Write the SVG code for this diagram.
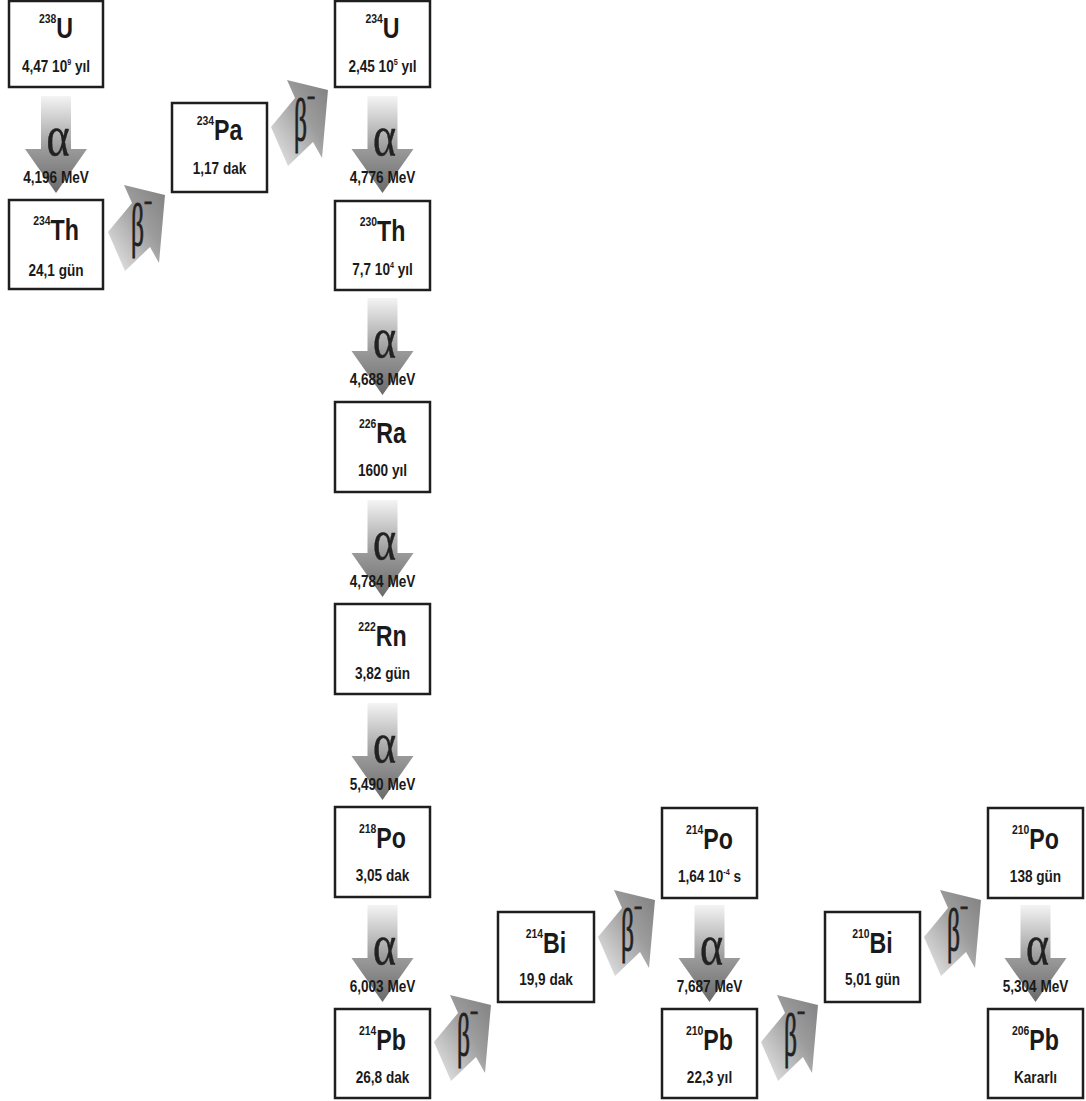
<svg xmlns="http://www.w3.org/2000/svg" xmlns:xlink="http://www.w3.org/1999/xlink" width="1086" height="1101" viewBox="0 0 1086 1101">
<style>
.box{fill:#fff;stroke:#1e1e1e;stroke-width:2.5}
.n{font-family:"Liberation Sans",Arial,sans-serif;font-weight:bold;fill:#1a1a1a;text-anchor:middle}
.sym{font-size:29px}
.mass{font-size:13px}
.hl{font-size:17px}
.ex{font-size:9px}
.mev{font-family:"Liberation Sans",Arial,sans-serif;font-weight:bold;font-size:17px;fill:#1a1a1a;text-anchor:middle}
.gr{font-family:"Liberation Serif",serif;font-size:40px;fill:#222;text-anchor:middle;stroke:#222;stroke-width:0.3}
.gb{font-family:"Liberation Serif",serif;font-size:32px;fill:#222;stroke:#222;stroke-width:0.5}
</style>
<defs>
<linearGradient id="ga" x1="0" y1="0" x2="0" y2="1">
<stop offset="0" stop-color="#f4f4f4"/>
<stop offset="0.55" stop-color="#9a9a9a"/>
<stop offset="1" stop-color="#6a6a6a"/>
</linearGradient>
<linearGradient id="gbeta" x1="0" y1="1" x2="1" y2="0">
<stop offset="0" stop-color="#ececec"/>
<stop offset="0.6" stop-color="#9c9c9c"/>
<stop offset="1" stop-color="#808080"/>
</linearGradient>
<path id="aarr" d="M-15,-97 H15 V-44 H31 L0,0 L-31,-44 H-15 Z" fill="url(#ga)"/>
<path id="barr" d="M0,0 L-41,-10 L-33,8 L-57,37 L-40,76 L-15,52 L-6,68 Z" fill="url(#gbeta)"/>
</defs>
<rect width="1086" height="1101" fill="#fff"/>

<g id="connectors">
<use xlink:href="#aarr" x="56" y="193"/>
<text class="gr" transform="translate(58,155) scale(1.1,1.4)">α</text>
<text class="mev" transform="translate(56,183) scale(0.8,1)">4,196 MeV</text>

<use xlink:href="#aarr" x="382.5" y="193"/>
<text class="gr" transform="translate(384.5,155) scale(1.1,1.4)">α</text>
<text class="mev" transform="translate(382.5,183) scale(0.8,1)">4,776 MeV</text>

<use xlink:href="#aarr" x="382.5" y="395"/>
<text class="gr" transform="translate(384.5,357) scale(1.1,1.4)">α</text>
<text class="mev" transform="translate(382.5,385) scale(0.8,1)">4,688 MeV</text>

<use xlink:href="#aarr" x="382.5" y="597"/>
<text class="gr" transform="translate(384.5,559) scale(1.1,1.4)">α</text>
<text class="mev" transform="translate(382.5,587) scale(0.8,1)">4,784 MeV</text>

<use xlink:href="#aarr" x="382.5" y="800"/>
<text class="gr" transform="translate(384.5,762) scale(1.1,1.4)">α</text>
<text class="mev" transform="translate(382.5,790) scale(0.8,1)">5,490 MeV</text>

<use xlink:href="#aarr" x="382.5" y="1002"/>
<text class="gr" transform="translate(384.5,964) scale(1.1,1.4)">α</text>
<text class="mev" transform="translate(382.5,992) scale(0.8,1)">6,003 MeV</text>

<use xlink:href="#aarr" x="709.5" y="1002"/>
<text class="gr" transform="translate(711.5,964) scale(1.1,1.4)">α</text>
<text class="mev" transform="translate(709.5,992) scale(0.8,1)">7,687 MeV</text>

<use xlink:href="#aarr" x="1035.5" y="1002"/>
<text class="gr" transform="translate(1037.5,964) scale(1.1,1.4)">α</text>
<text class="mev" transform="translate(1035.5,992) scale(0.8,1)">5,304 MeV</text>

<use xlink:href="#barr" x="165" y="195"/>
<text class="gb" transform="translate(131,245) scale(0.8,1.85)">β<tspan font-size="18" dy="-17">−</tspan></text>

<use xlink:href="#barr" x="328" y="90"/>
<text class="gb" transform="translate(294,140) scale(0.8,1.85)">β<tspan font-size="18" dy="-17">−</tspan></text>

<use xlink:href="#barr" x="491" y="1005"/>
<text class="gb" transform="translate(457,1055) scale(0.8,1.85)">β<tspan font-size="18" dy="-17">−</tspan></text>

<use xlink:href="#barr" x="655" y="900"/>
<text class="gb" transform="translate(621,950) scale(0.8,1.85)">β<tspan font-size="18" dy="-17">−</tspan></text>

<use xlink:href="#barr" x="818" y="1005"/>
<text class="gb" transform="translate(784,1055) scale(0.8,1.85)">β<tspan font-size="18" dy="-17">−</tspan></text>

<use xlink:href="#barr" x="981" y="900"/>
<text class="gb" transform="translate(947,950) scale(0.8,1.85)">β<tspan font-size="18" dy="-17">−</tspan></text>
</g>

<g id="U238">
<rect class="box" x="9" y="1" width="94" height="86"/>
<text class="n" transform="translate(56,38) scale(0.8,1)"><tspan class="mass" dy="-15">238</tspan><tspan class="sym" dy="15">U</tspan></text>
<text class="n hl" transform="translate(56,72) scale(0.8,1)">4,47 10<tspan class="ex" dy="-7">9</tspan><tspan dy="7"> yıl</tspan></text>
</g>

<g id="Th234">
<rect class="box" x="9" y="200" width="94" height="89"/>
<text class="n" transform="translate(56,240) scale(0.8,1)"><tspan class="mass" dy="-15">234</tspan><tspan class="sym" dy="15" font-size="31">Th</tspan></text>
<text class="n hl" transform="translate(56,276) scale(0.8,1)">24,1 gün</text>
</g>

<g id="Pa234">
<rect class="box" x="172" y="103" width="95" height="89"/>
<text class="n" transform="translate(219.5,140) scale(0.8,1)"><tspan class="mass" dy="-15">234</tspan><tspan class="sym" dy="15">Pa</tspan></text>
<text class="n hl" transform="translate(219.5,174) scale(0.8,1)">1,17 dak</text>
</g>

<g id="U234">
<rect class="box" x="335" y="1" width="95" height="86"/>
<text class="n" transform="translate(382.5,38) scale(0.8,1)"><tspan class="mass" dy="-15">234</tspan><tspan class="sym" dy="15">U</tspan></text>
<text class="n hl" transform="translate(382.5,72) scale(0.8,1)">2,45 10<tspan class="ex" dy="-7">5</tspan><tspan dy="7"> yıl</tspan></text>
</g>

<g id="Th230">
<rect class="box" x="335" y="201" width="95" height="89"/>
<text class="n" transform="translate(382.5,241) scale(0.8,1)"><tspan class="mass" dy="-15">230</tspan><tspan class="sym" dy="15">Th</tspan></text>
<text class="n hl" transform="translate(382.5,275) scale(0.8,1)">7,7 10<tspan class="ex" dy="-7">4</tspan><tspan dy="7"> yıl</tspan></text>
</g>

<g id="Ra226">
<rect class="box" x="335" y="402" width="95" height="90"/>
<text class="n" transform="translate(382.5,443) scale(0.8,1)"><tspan class="mass" dy="-15">226</tspan><tspan class="sym" dy="15">Ra</tspan></text>
<text class="n hl" transform="translate(382.5,476) scale(0.8,1)">1600 yıl</text>
</g>

<g id="Rn222">
<rect class="box" x="335" y="604" width="95" height="90"/>
<text class="n" transform="translate(382.5,646) scale(0.8,1)"><tspan class="mass" dy="-15">222</tspan><tspan class="sym" dy="15">Rn</tspan></text>
<text class="n hl" transform="translate(382.5,679) scale(0.8,1)">3,82 gün</text>
</g>

<g id="Po218">
<rect class="box" x="335" y="807" width="95" height="90"/>
<text class="n" transform="translate(382.5,848) scale(0.8,1)"><tspan class="mass" dy="-15">218</tspan><tspan class="sym" dy="15">Po</tspan></text>
<text class="n hl" transform="translate(382.5,881) scale(0.8,1)">3,05 dak</text>
</g>

<g id="Pb214">
<rect class="box" x="335" y="1009" width="95" height="89"/>
<text class="n" transform="translate(382.5,1050) scale(0.8,1)"><tspan class="mass" dy="-15">214</tspan><tspan class="sym" dy="15">Pb</tspan></text>
<text class="n hl" transform="translate(382.5,1083) scale(0.8,1)">26,8 dak</text>
</g>

<g id="Bi214">
<rect class="box" x="498" y="912" width="96" height="90"/>
<text class="n" transform="translate(546,953) scale(0.8,1)"><tspan class="mass" dy="-15">214</tspan><tspan class="sym" dy="15">Bi</tspan></text>
<text class="n hl" transform="translate(546,985) scale(0.8,1)">19,9 dak</text>
</g>

<g id="Po214">
<rect class="box" x="662" y="808" width="95" height="90"/>
<text class="n" transform="translate(709.5,849) scale(0.8,1)"><tspan class="mass" dy="-15">214</tspan><tspan class="sym" dy="15">Po</tspan></text>
<text class="n hl" transform="translate(709.5,882) scale(0.8,1)">1,64 10<tspan class="ex" dy="-7">-4</tspan><tspan dy="7"> s</tspan></text>
</g>

<g id="Pb210">
<rect class="box" x="662" y="1009" width="95" height="89"/>
<text class="n" transform="translate(709.5,1050) scale(0.8,1)"><tspan class="mass" dy="-15">210</tspan><tspan class="sym" dy="15">Pb</tspan></text>
<text class="n hl" transform="translate(709.5,1083) scale(0.8,1)">22,3 yıl</text>
</g>

<g id="Bi210">
<rect class="box" x="825" y="912" width="95" height="90"/>
<text class="n" transform="translate(872.5,953) scale(0.8,1)"><tspan class="mass" dy="-15">210</tspan><tspan class="sym" dy="15">Bi</tspan></text>
<text class="n hl" transform="translate(872.5,985) scale(0.8,1)">5,01 gün</text>
</g>

<g id="Po210">
<rect class="box" x="988" y="808" width="95" height="90"/>
<text class="n" transform="translate(1035.5,849) scale(0.8,1)"><tspan class="mass" dy="-15">210</tspan><tspan class="sym" dy="15">Po</tspan></text>
<text class="n hl" transform="translate(1035.5,882) scale(0.8,1)">138 gün</text>
</g>

<g id="Pb206">
<rect class="box" x="988" y="1009" width="95" height="89"/>
<text class="n" transform="translate(1035.5,1050) scale(0.8,1)"><tspan class="mass" dy="-15">206</tspan><tspan class="sym" dy="15">Pb</tspan></text>
<text class="n hl" transform="translate(1035.5,1083) scale(0.8,1)">Kararlı</text>
</g>
</svg>
